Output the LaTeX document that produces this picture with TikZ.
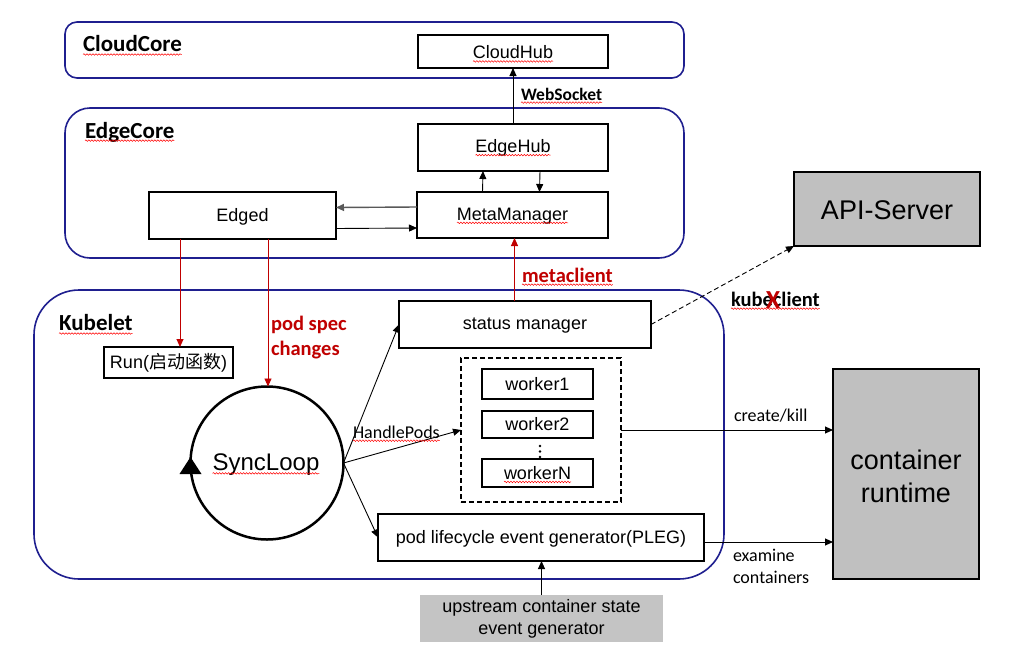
\documentclass[tikz,border=0pt]{standalone}
\usepackage{fontspec}
\setmainfont{Liberation Sans}
\newfontfamily\calib{Carlito}
\newfontfamily\cjk{Noto Sans CJK SC}
\usetikzlibrary{arrows.meta,decorations.pathmorphing,calc}
\definecolor{navy}{RGB}{31,31,143}
\definecolor{dred}{RGB}{192,0,0}
\definecolor{boxgray}{RGB}{192,192,192}
\definecolor{upgray}{RGB}{196,196,196}
\newcommand\wv[1]{\draw[wavy] ([yshift=-2.5pt]#1.base west) -- ([yshift=-2.5pt]#1.base east);}
\begin{document}
\begin{tikzpicture}[x=1pt,y=-1pt,
  every node/.style={inner sep=0pt, outer sep=0pt},
  bx/.style={draw=black, line width=1.6pt},
  grp/.style={draw=navy, line width=1.6pt},
  txt/.style={font=\fontsize{18}{22}\selectfont},
  big/.style={font=\fontsize{27}{33}\selectfont, align=center},
  ttl/.style={font=\calib\bfseries\fontsize{23}{27}\selectfont, anchor=west},
  lbl/.style={font=\calib\bfseries\fontsize{20.5}{25}\selectfont, anchor=west},
  sml/.style={font=\calib\fontsize{18}{22}\selectfont, anchor=west, align=left},
  ar/.style={-{Triangle[length=8pt,width=7pt]}, line width=0.9pt},
  rar/.style={ar, draw=dred},
  wavy/.style={draw=red, line width=0.5pt, decorate, decoration={snake, amplitude=0.8pt, segment length=3pt}}
]
\useasboundingbox (0,0) rectangle (1015,656);
\fill[white] (0,0) rectangle (1015,656);

% groups
\node[grp, rounded corners=12pt, minimum width=619pt, minimum height=56pt] (cloudcore) at (374.5,50) {};
\node[grp, rounded corners=25pt, minimum width=619pt, minimum height=150pt] (edgecore) at (374.5,183) {};
\node[grp, rounded corners=45pt, minimum width=690pt, minimum height=289pt] (kubelet) at (379,434.5) {};

\node[ttl] (lcc) at (83,44) {CloudCore}; \wv{lcc}
\node[ttl] (lec) at (85,132) {EdgeCore}; \wv{lec}
\node[ttl] (lkb) at (59,323) {Kubelet}; \wv{lkb}

% boxes
\node[bx, minimum width=190pt, minimum height=33pt] (cloudhub) at (513,51.5) {};
\node[txt] (tcloudhub) at (513,52.5) {CloudHub}; \wv{tcloudhub}
\node[bx, minimum width=190pt, minimum height=47pt] (edgehub) at (513,147.5) {};
\node[txt] (tedgehub) at (513,148) {EdgeHub}; \wv{tedgehub}
\node[bx, minimum width=191pt, minimum height=46pt] (mm) at (512.5,215) {};
\node[txt] (tmm) at (512.5,216) {MetaManager}; \wv{tmm}
\node[bx, minimum width=187pt, minimum height=47pt] (edged) at (242.5,215.5) {};
\node[txt] (tedged) at (242.5,216.5) {Edged};
\node[bx, minimum width=129pt, minimum height=31pt, txt] (run) at (168.5,362.5) {Run({\cjk 启动函数})};

\node[circle, draw=black, line width=2.5pt, minimum size=153pt] (sync) at (267,463) {};
\node[font=\fontsize{24}{28}\selectfont] (tsync) at (266,465) {SyncLoop}; \wv{tsync}
\fill ($(sync.west)+(-11,11)$) -- ($(sync.west)+(11,11)$) -- ($(sync.west)+(0,-6)$) -- cycle;

\node[bx, minimum width=252pt, minimum height=47pt] (sm) at (525,324.5) {};
\node[txt] (tsm) at (525,326) {status manager};
\node[draw=black, dashed, dash pattern=on 5pt off 3pt, line width=1.6pt, minimum width=160pt, minimum height=144pt] (dbox) at (541,430) {};
\node[bx, minimum width=111pt, minimum height=30pt, txt] (w1) at (537.5,384) {worker1};
\node[bx, minimum width=111pt, minimum height=27pt, txt] (w2) at (537.5,424.5) {worker2};
\node[bx, minimum width=111pt, minimum height=28pt] (wn) at (537.5,473) {};
\node[txt] (twn) at (537.5,473) {workerN}; \wv{twn}
\fill (540,446) circle (1.4) (540,451.5) circle (1.4) (540,457) circle (1.4);
\node[bx, minimum width=326pt, minimum height=47pt] (pleg) at (541,537.5) {};
\node[txt] (tpleg) at (541,539) {pod lifecycle event generator(PLEG)};
\node[fill=upgray, minimum width=243pt, minimum height=47pt, txt, align=center] (up) at (541.5,618.5) {upstream container state\\event generator};

\node[bx, fill=boxgray, minimum width=186pt, minimum height=74pt] (api) at (887,209) {};
\node[big] (tapi) at (887,210) {API-Server};
\node[bx, fill=boxgray, minimum width=146pt, minimum height=210pt] (cr) at (906,474) {};
\node[big] (tcr) at (906,476) {container\\runtime};

% connectors
\draw[ar] (edgehub.north) -- (cloudhub.south);
\node[font=\calib\bfseries\fontsize{17.5}{21}\selectfont, anchor=west] (ws) at (521,94) {WebSocket}; \wv{ws}
\draw[ar] ([xshift=-30pt]mm.north) -- ([xshift=-30pt]edgehub.south);
\draw[ar] ([xshift=27pt]edgehub.south) -- ([xshift=27pt]mm.north);
\draw[ar, draw=black!65, line width=1.4pt] ([yshift=8pt]mm.west) -- ([yshift=8pt]edged.east);
\draw[ar] ([yshift=-13pt]edged.east) -- ([yshift=-13pt]mm.west);

\coordinate (r1) at ([xshift=31pt]edged.south west);
\draw[rar] (r1) -- (r1 |- run.north);
\coordinate (r2) at ([xshift=119pt]edged.south west);
\draw[rar] (r2) -- (r2 |- sync.north);
\node[lbl, text=dred, align=left] (psc) at (271,338) {pod spec\\changes};

\coordinate (m1) at ([xshift=2pt]mm.south);
\draw[rar] (m1 |- sm.north) -- (m1);
\node[lbl, text=dred] (mc) at (522,275) {metaclient}; \wv{mc}

\draw[ar, dashed, dash pattern=on 5pt off 3pt] (sm.east) -- (api.south west);
\node[lbl] (kc) at (731,299) {kubeclient}; \wv{kc}
\node[font=\calib\bfseries\fontsize{26}{26}\selectfont, text=dred] (kx) at (773,300) {X};

\draw[ar] (sync.east) -- (sm.west);
\draw[ar] (sync.east) -- (dbox.west);
\draw[ar] (sync.east) -- (pleg.west);
\node[sml] (hp) at (353,432) {HandlePods}; \wv{hp}

\draw[ar] (dbox.east) -- (dbox.east -| cr.west);
\node[sml] (ck) at (734,416) {create/kill};
\coordinate (p1) at ([yshift=-4.5pt]pleg.east);
\draw[ar] (p1) -- (p1 -| cr.west);
\node[sml] (ex) at (733,566) {examine\\containers};
\draw[ar] (up.north) -- (up.north |- pleg.south);
\end{tikzpicture}
\end{document}
